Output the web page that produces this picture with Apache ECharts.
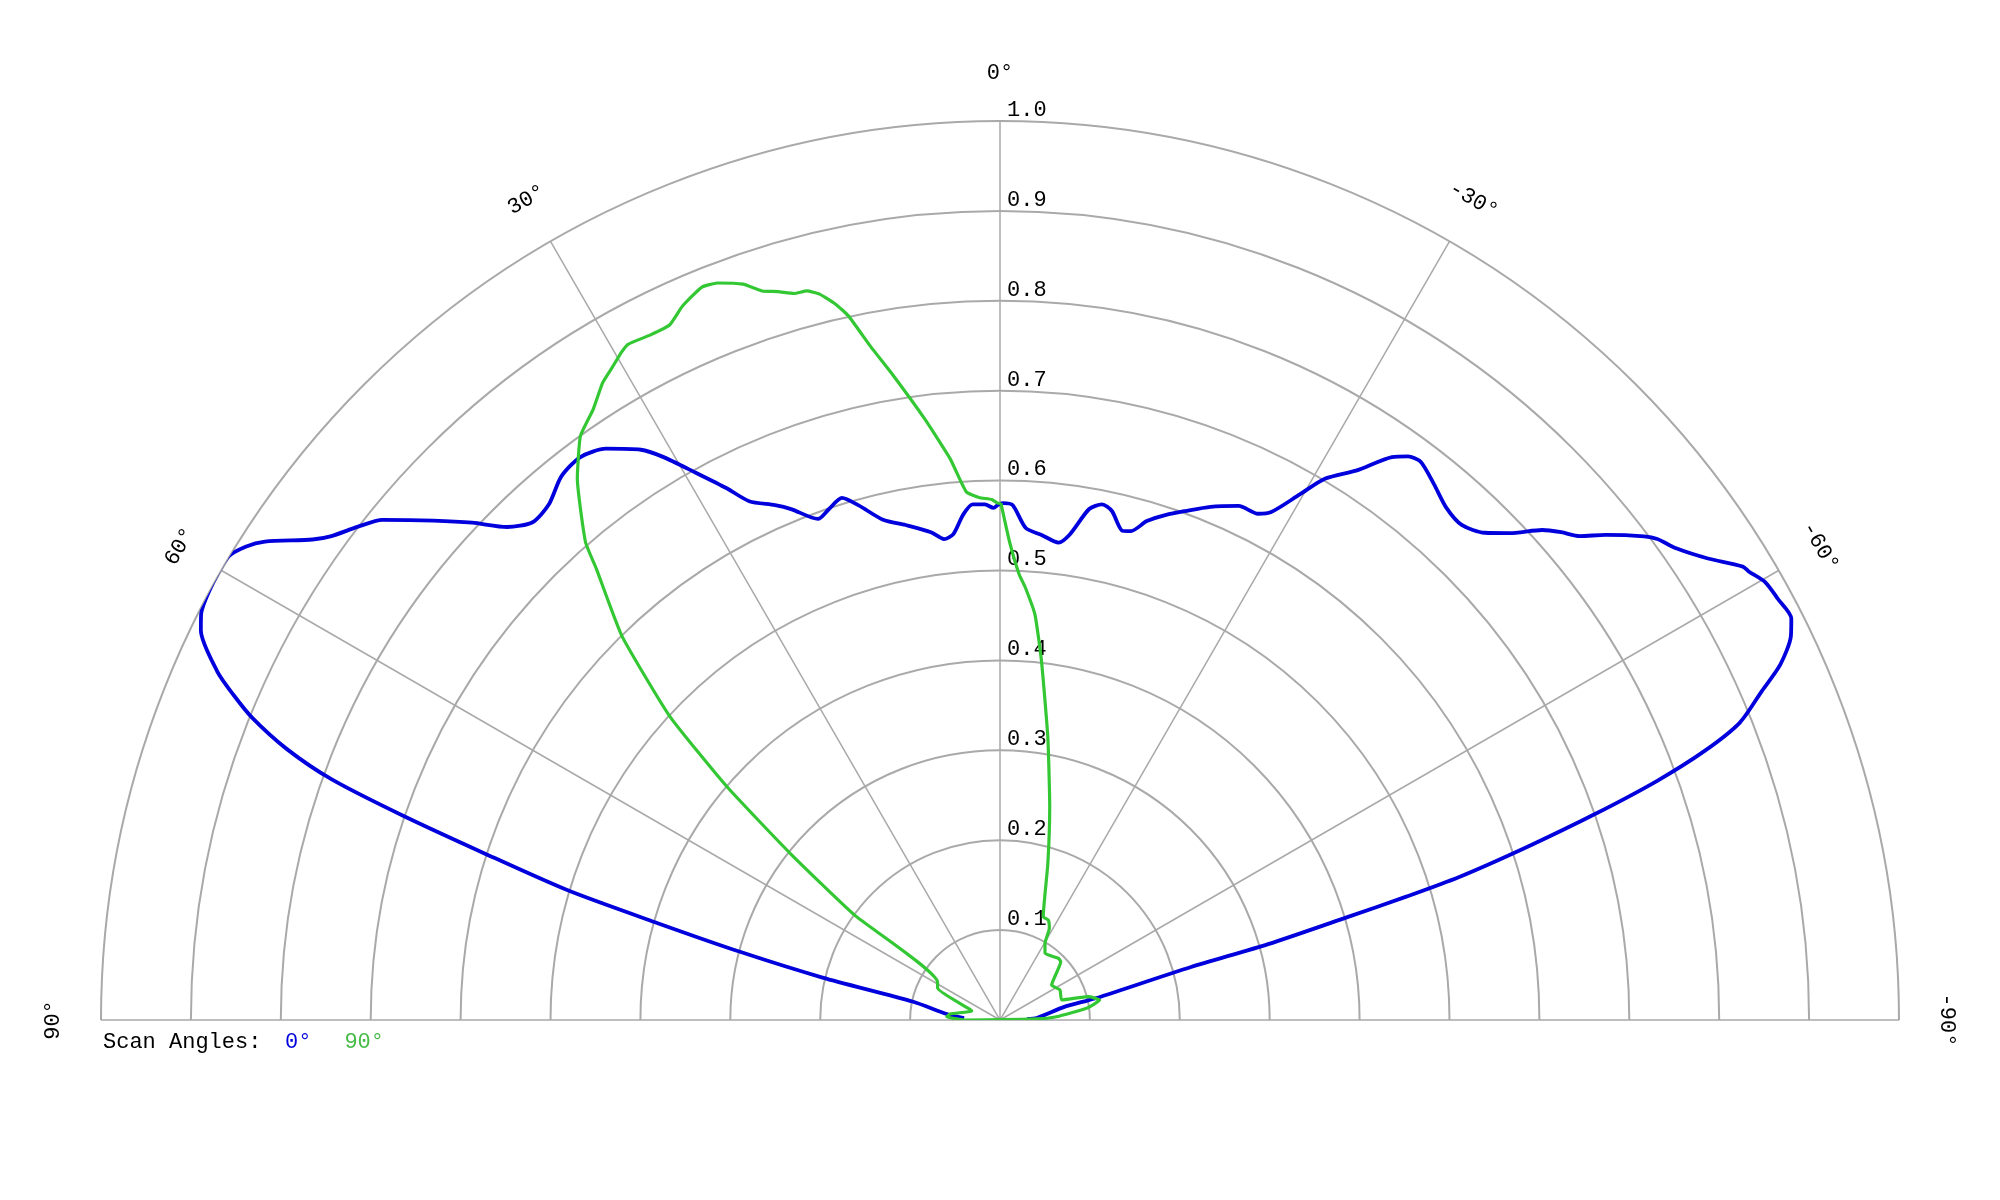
<!DOCTYPE html>
<html>
<head>
<meta charset="utf-8">
<script src="https://cdn.jsdelivr.net/npm/echarts@6/dist/echarts.min.js"></script>
<style>html,body{margin:0;padding:0;background:#fff}#c{width:2000px;height:1200px}</style>
</head>
<body>
<div id="c"></div>
<script>
// ---- data ----
const radiusTickLabels = ['0.1','0.2','0.3','0.4','0.5','0.6','0.7','0.8','0.9','1.0'];
const angleTickValues = [90, 60, 30, 0, -30, -60, -90];
const seriesNames = ['0°', '90°'];

// Scan angle 0° (blue): angle in degrees, normalized amplitude
const blueTheta = [-88,-86.9,-78.5,-77.6,-77.0,-74.5,-74.2,-73.5,-73.1,-72.7,-71.8,-70.9,-70.0,-69.1,-68.1,-66.65,-65.5,-64.1,-63.1,-61.6,-60.2,-59.1,-58.6,-56.9,-55.1,-53.8,-53.1,-51.3,-50.15,-49.0,-47.9,-46.3,-44.85,-43.0,-41.0,-39.0,-37.0,-35.9,-34.85,-33.0,-31.0,-29.7,-28.1,-27.0,-24.9,-22.3,-20.0,-18.2,-16.4,-15.0,-14.05,-12.4,-11.2,-9.9,-8.2,-7.0,-4.9,-3.0,-1.4,-0.33,0.22,0.72,1.67,3.04,4.19,5.48,6.64,8.05,10.8,13.16,15.4,16.84,18.5,19.97,22.24,23.6,25.8,27.2,29.1,30.9,32.2,34.6,36.7,38.9,41.2,43.2,45.0,46.7,48.6,51.0,52.5,54.1,55.05,56.94,57.9,59.05,61.3,63.1,64.0,66.0,67.0,68.0,69.2,70.2,71.1,72.1,73.3,74.2,75.3,76.55,78.1,83.6,87];
const blueR = [0.03,0.041,0.073,0.095,0.115,0.2205,0.310,0.403,0.474,0.535,0.619,0.701,0.778,0.839,0.887,0.923,0.954,0.978,0.987,0.984,0.9805,0.971,0.968,0.940,0.917,0.906,0.896,0.863,0.840,0.827,0.813,0.784,0.7645,0.753,0.756,0.767,0.7775,0.774,0.763,0.729,0.7026,0.673,0.6405,0.632,0.6305,0.617,0.6025,0.5915,0.5785,0.563,0.561,0.5797,0.5847,0.577,0.546,0.535,0.5415,0.548,0.573,0.575,0.573,0.5696,0.5738,0.5743,0.5633,0.543,0.5386,0.548,0.5605,0.5715,0.594,0.6067,0.5994,0.593,0.614,0.625,0.641,0.665,0.697,0.730,0.7496,0.772,0.781,0.777,0.762,0.7595,0.7755,0.8066,0.840,0.884,0.901,0.918,0.933,0.9756,0.9906,1.0013,1.001,0.9965,0.989,0.953,0.9266,0.897,0.8485,0.790,0.703,0.602,0.502,0.3965,0.299,0.203,0.0986,0.0597,0.04];

// Scan angle 90° (green), traced in path order
const greenTheta = [-0.1,0.22,0.91,2.30,3.66,5.06,7.14,9.43,10.88,12.16,12.94,13.96,14.84,15.83,16.95,18.07,19.25,20.98,22.16,23.99,25.43,27.03,28.83,29.52,30.72,31.94,33.69,35.71,37.98,40.93,41.83,44.55,47.4,49.5,51.57,54.2,58.8,62.9,70.2,72.2,83.2,86.5,90,-88.4,-86.7,-82.3,-78.7,-75.2,-72.0,-63.4,-55.9,-46.2,-43.4,-34.0,-30.4,-28.3,-25.8,-22.7,-17.0,-13.1,-9.6,-6.59,-4.94,-3.38,-2.44,-1.15,-0.1];
const greenR = [0.575,0.5748,0.579,0.5817,0.5888,0.6263,0.6738,0.7273,0.763,0.8015,0.817,0.832,0.839,0.840,0.847,0.853,0.867,0.878,0.880,0.869,0.856,0.8555,0.858,0.854,0.8444,0.8354,0.816,0.7997,0.764,0.7038,0.673,0.5996,0.499,0.399,0.297,0.1994,0.0812,0.078,0.036,0.033,0.056,0.0594,0.039,0.041,0.063,0.097,0.113,0.1016,0.0722,0.0746,0.0694,0.0936,0.0945,0.0895,0.0989,0.1158,0.1235,0.1246,0.182,0.244,0.319,0.402,0.4524,0.4814,0.4966,0.5318,0.575];

// ---- chart ----
const FONT = '"Liberation Mono", "Courier New", monospace';
const FS = 22;
const CX = 1000, CY = 1020, R = 899;
const blueColor = '#0000dd', greenColor = '#33c833', gridColor = '#a9a9a9';

const chart = echarts.init(document.getElementById('c'), null, {renderer: 'canvas'});

const angleLabels = angleTickValues.map(v => {
  const a = (90 + v) * Math.PI / 180;
  const rr = R + 48;
  return {
    type: 'text',
    x: CX + rr * Math.cos(a),
    y: CY - rr * Math.sin(a),
    rotation: v * Math.PI / 180,
    style: {text: v + '°', font: FS + 'px ' + FONT, fill: '#000', align: 'center', verticalAlign: 'middle'}
  };
});

chart.setOption({
  animation: false,
  backgroundColor: '#fff',
  title: {text: 'Scan Angles:', left: 103, top: 1031, textStyle: {fontFamily: FONT, fontSize: FS, fontWeight: 'normal', color: '#000'}, padding: 0},
  legend: {
    left: 280, top: 1031, padding: 0, itemWidth: 0, itemHeight: 0, itemGap: 28,
    textStyle: {fontFamily: FONT, fontSize: FS},
    data: [
      {name: seriesNames[0], icon: 'circle', textStyle: {color: blueColor}},
      {name: seriesNames[1], icon: 'circle', textStyle: {color: '#44bb44'}}
    ],
    selectedMode: false
  },
  polar: [
    {center: [CX, CY], radius: R},
    {center: [CX + 15, CY], radius: R}
  ],
  angleAxis: [
    {polarIndex: 0, type: 'value', min: -90, max: 90, interval: 30, startAngle: 0, endAngle: 180, clockwise: false,
     axisLine: {show: false}, axisTick: {show: false}, axisLabel: {show: false},
     splitLine: {show: true, lineStyle: {color: gridColor, width: 1.5}}},
    {polarIndex: 1, type: 'value', min: -90, max: 90, startAngle: 90,
     axisLine: {show: false}, axisTick: {show: false}, axisLabel: {show: false}, splitLine: {show: false}}
  ],
  radiusAxis: [
    {polarIndex: 0, type: 'value', min: 0, max: 1, interval: 0.1,
     axisLine: {show: false}, axisTick: {show: false}, axisLabel: {show: false},
     splitLine: {show: true, lineStyle: {color: gridColor, width: 2}}},
    {polarIndex: 1, type: 'value', min: 0, max: 1, interval: 0.1,
     axisLine: {show: false}, axisTick: {show: false}, splitLine: {show: false},
     axisLabel: {show: true, showMinLabel: false, margin: 8, fontFamily: FONT, fontSize: FS, color: '#000',
       align: 'left', verticalAlign: 'bottom',
       formatter: v => radiusTickLabels[Math.round(v * 10) - 1] || ''}}
  ],
  graphic: angleLabels,
  series: [
    {name: seriesNames[0], type: 'line', coordinateSystem: 'polar', polarIndex: 0, showSymbol: false, symbol: 'none',
     smooth: 0.25, lineStyle: {color: blueColor, width: 3.8}, itemStyle: {color: blueColor},
     data: blueTheta.map((t, i) => [blueR[i], t])},
    {name: seriesNames[1], type: 'line', coordinateSystem: 'polar', polarIndex: 0, showSymbol: false, symbol: 'none',
     smooth: 0.15, lineStyle: {color: greenColor, width: 3.2}, itemStyle: {color: greenColor},
     data: greenTheta.map((t, i) => [greenR[i], t])}
  ]
});
</script>
</body>
</html>
